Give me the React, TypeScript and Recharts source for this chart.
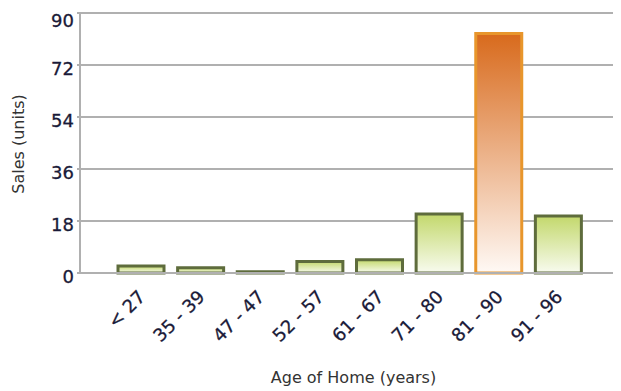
import React from "react";
import { BarChart, Bar, XAxis, YAxis, CartesianGrid, Cell, Label } from "recharts";

// Home sales grouped by age of home
const categories = ["< 27", "35 - 39", "47 - 47", "52 - 57", "61 - 67", "71 - 80", "81 - 90", "91 - 96"];
const sales = [2.4, 1.8, 0.4, 4.0, 4.6, 20.4, 82.9, 19.7];
const yTicks = [0, 18, 36, 54, 72, 90];
const highlighted = "81 - 90";

const data = categories.map((age, i) => ({ age, sales: sales[i] }));

const FONT = "'DejaVu Sans', Verdana, sans-serif";
const TICK_COLOR = "#1a1a38";
const TITLE_COLOR = "#333333";
const GRID_COLOR = "#b0b0b0";

const XTick = (props: any) => {
  const { x, y, payload } = props;
  return (
    <g transform={`translate(${x + 5.5},${y + 25})`}>
      <text
        x={0}
        y={0}
        textAnchor="end"
        transform="rotate(-45)"
        fontSize={18}
        fontFamily={FONT}
        fill={TICK_COLOR}
        stroke={TICK_COLOR}
        strokeWidth={0.3}
      >
        {payload.value}
      </text>
    </g>
  );
};

const YTick = (props: any) => {
  const { x, y, payload } = props;
  return (
    <text
      x={x}
      y={y + 9.5}
      textAnchor="end"
      fontSize={18}
      fontFamily={FONT}
      fill={TICK_COLOR}
      stroke={TICK_COLOR}
      strokeWidth={0.3}
    >
      {payload.value}
    </text>
  );
};

export default function App() {
  return (
    <BarChart
      width={613}
      height={383}
      data={data}
      margin={{ top: 5, right: 0, bottom: 0, left: 0 }}
      barSize={46}
    >
      <defs>
        <linearGradient id="greenFill" x1="0" y1="0" x2="0" y2="1">
          <stop offset="0%" stopColor="#c3d86c" />
          <stop offset="100%" stopColor="#f8fbef" />
        </linearGradient>
        <linearGradient id="orangeFill" x1="0" y1="0" x2="0" y2="1">
          <stop offset="0%" stopColor="#d86a1c" />
          <stop offset="100%" stopColor="#fff9f5" />
        </linearGradient>
      </defs>
      <CartesianGrid vertical={false} stroke={GRID_COLOR} strokeWidth={2} />
      <XAxis
        dataKey="age"
        height={118}
        padding={{ left: 31, right: 33 }}
        tickSize={0}
        tickMargin={0}
        tickLine={false}
        axisLine={{ stroke: GRID_COLOR, strokeWidth: 2 }}
        tick={<XTick />}
        interval={0}
      >
        <Label
          content={(p: any) => {
            const vb = p.viewBox;
            return (
              <text
                x={vb.x + vb.width / 2 + 3}
                y={vb.y + 110}
                textAnchor="middle"
                fontSize={16}
                fontFamily={FONT}
                fill={TITLE_COLOR}
              >
                Age of Home (years)
              </text>
            );
          }}
        />
      </XAxis>
      <YAxis
        width={72}
        domain={[0, 90]}
        ticks={yTicks}
        tickSize={3}
        tickMargin={3}
        tickLine={{ stroke: GRID_COLOR, strokeWidth: 2 }}
        axisLine={{ stroke: GRID_COLOR, strokeWidth: 2 }}
        tick={<YTick />}
      >
        <Label
          content={(p: any) => {
            const vb = p.viewBox;
            const cx = 10.7;
            const cy = vb.y + vb.height / 2 + 1;
            return (
              <text
                x={cx}
                y={cy}
                transform={`rotate(-90, ${cx}, ${cy})`}
                textAnchor="middle"
                dominantBaseline="central"
                fontSize={16}
                fontFamily={FONT}
                fill={TITLE_COLOR}
              >
                Sales (units)
              </text>
            );
          }}
        />
      </YAxis>
      <Bar dataKey="sales" strokeWidth={3} isAnimationActive={false}>
        {data.map((d) => (
          <Cell
            key={d.age}
            fill={d.age === highlighted ? "url(#orangeFill)" : "url(#greenFill)"}
            stroke={d.age === highlighted ? "#e8962c" : "#5e6c3c"}
          />
        ))}
      </Bar>
    </BarChart>
  );
}
